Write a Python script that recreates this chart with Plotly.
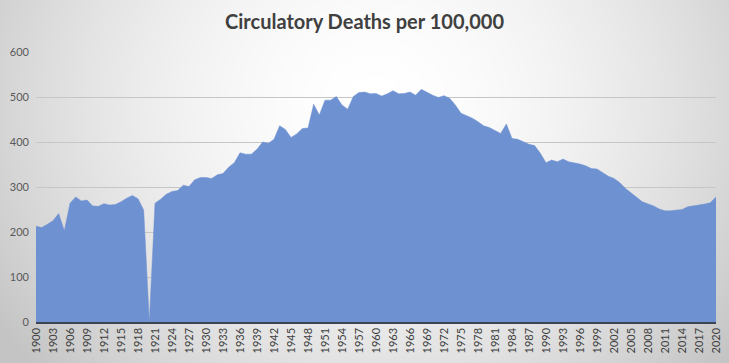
import numpy as np
import plotly.graph_objects as go

years = list(range(1900, 2021))
deaths = [
    213, 210, 217, 225, 241, 203, 264, 278, 269, 271,   # 1900-1909
    258, 257, 263, 260, 261, 267, 275, 281, 274, 249,   # 1910-1919
    0, 264, 273, 284, 290, 292, 304, 301, 316, 321,     # 1920-1929
    321, 319, 327, 330, 344, 354, 376, 373, 373, 384,   # 1930-1939
    400, 397, 406, 436, 428, 410, 418, 430, 431, 484,   # 1940-1949
    460, 493, 493, 501, 482, 473, 501, 510, 511, 507,   # 1950-1959
    508, 502, 507, 514, 507, 508, 511, 504, 517, 510,   # 1960-1969
    504, 499, 503, 497, 482, 464, 458, 453, 445, 436,   # 1970-1979
    432, 425, 419, 440, 408, 406, 401, 395, 392, 375,   # 1980-1989
    354, 360, 356, 362, 356, 354, 351, 347, 341, 340,   # 1990-1999
    332, 324, 319, 310, 297, 288, 277, 267, 262, 258,   # 2000-2009
    251, 247, 247, 249, 250, 256, 258, 259, 262, 265,   # 2010-2019
    278,                                                # 2020
]
tick_years = list(range(1900, 2021, 3))
tick_labels = [str(y) for y in tick_years]
y_ticks = [0, 100, 200, 300, 400, 500, 600]

W, H = 729, 363

# background radial gradient (decoration)
gx = np.linspace(0, W, 90)
gy = np.linspace(0, H, 50)
GX, GY = np.meshgrid(gx, gy)
d = np.sqrt(((GX - 375) / 430) ** 2 + ((GY - 100) / 380) ** 2)
Z = np.clip(d, 0, 1.1) ** 1.7

fig = go.Figure()
fig.add_trace(go.Heatmap(
    x=gx, y=gy, z=Z, zsmooth="best", showscale=False, hoverinfo="skip",
    colorscale=[[0, "#ffffff"], [1, "#c4c4c4"]], zmin=0, zmax=1.1,
    xaxis="x", yaxis="y",
))
fig.add_trace(go.Scatter(
    x=years, y=deaths, mode="lines", fill="tozeroy",
    line=dict(color="#6e91d1", width=0.5), fillcolor="#6e91d1",
    xaxis="x2", yaxis="y2", showlegend=False, hoverinfo="skip",
))

x0, x1 = 36, 716
ytop, ybot = 52, 322
fig.update_layout(
    width=W, height=H,
    margin=dict(l=0, r=0, t=0, b=0, autoexpand=False),
    paper_bgcolor="white", plot_bgcolor="rgba(0,0,0,0)",
    showlegend=False, hovermode=False,
    title=dict(text="Circulatory Deaths per 100,000", x=0.5, xanchor="center",
               y=1 - 22 / H, yanchor="middle", automargin=False,
               font=dict(family="Lato", size=20, color="#404040", weight="bold")),
    xaxis=dict(domain=[0, 1], range=[0, W], visible=False, fixedrange=True,
               automargin=False),
    yaxis=dict(domain=[0, 1], range=[H, 0], visible=False, fixedrange=True,
               automargin=False),
    xaxis2=dict(domain=[x0 / W, x1 / W], range=[1900, 2020], anchor="y2",
                tickvals=tick_years, ticktext=tick_labels, tickangle=-90,
                tickfont=dict(family="Lato", size=11, color="#404040"),
                showgrid=False, showline=True, linecolor="#3d4552", linewidth=1.5,
                ticks="", zeroline=False, automargin=False),
    yaxis2=dict(domain=[(H - ybot) / H, (H - ytop) / H], range=[0, 600], anchor="x2",
                tickvals=y_ticks, tickfont=dict(family="Lato", size=11, color="#595959"),
                showgrid=True, gridcolor="#c6c6c6", gridwidth=1,
                zeroline=False, showline=False, ticks="", ticklabelstandoff=6,
                automargin=False),
)
fig.write_html("out.html", config={"displayModeBar": False, "staticPlot": True},
               post_script="document.body.style.margin='0';document.body.style.overflow='hidden';")
